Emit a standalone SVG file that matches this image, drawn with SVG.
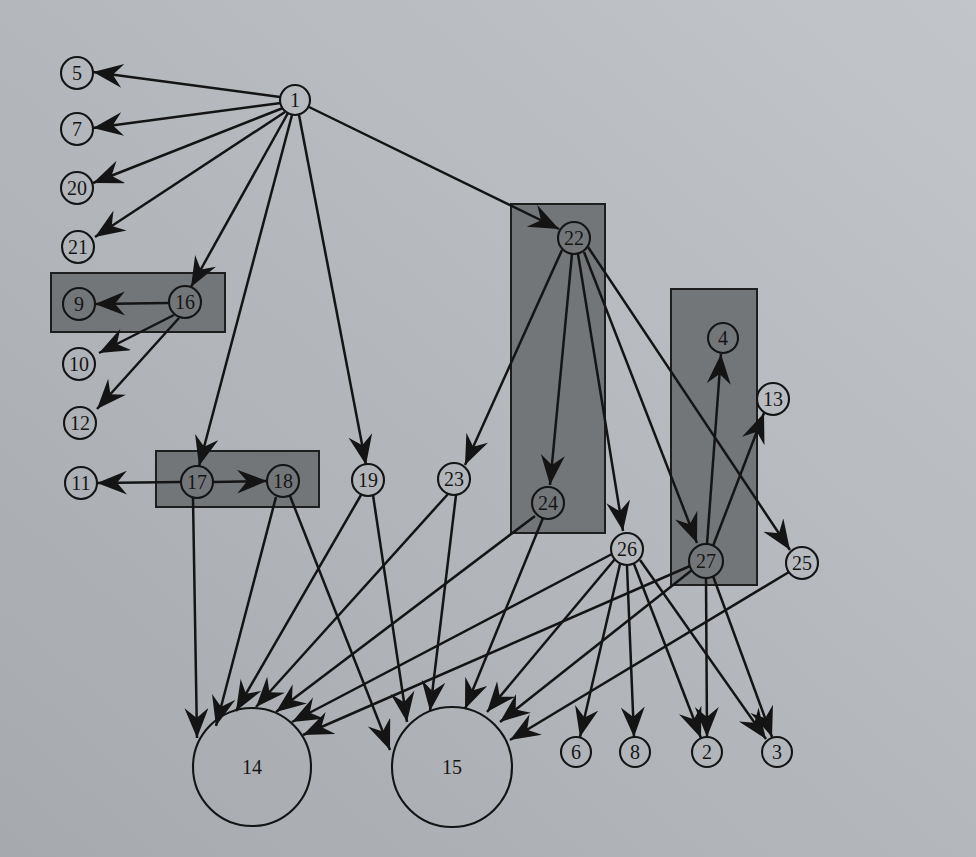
<svg xmlns="http://www.w3.org/2000/svg" width="976" height="857" viewBox="0 0 976 857">
<defs>
<linearGradient id="bg" x1="0" y1="1" x2="1" y2="0">
<stop offset="0" stop-color="#a6aaae"/>
<stop offset="1" stop-color="#c2c5c9"/>
</linearGradient>
<marker id="ah" markerUnits="userSpaceOnUse" markerWidth="32" markerHeight="26" refX="30" refY="12" orient="auto" viewBox="0 0 32 26">
<path d="M0,0 L30,12 L0,24 L10,12 Z" fill="#141414"/>
</marker>
<style>
.n circle{fill:none;stroke:#141414;stroke-width:2.1}
.n text{font-family:"Liberation Serif","Times New Roman",serif;font-size:20px;fill:#151515;text-anchor:middle;dominant-baseline:central}
.e line{stroke:#141414;stroke-width:2.5;marker-end:url(#ah)}
.box{fill:#737679;stroke:#1e1e1e;stroke-width:2}
</style>
</defs>
<rect width="976" height="857" fill="url(#bg)"/>
<g id="boxes">
<rect class="box" x="51" y="273" width="174" height="59"/>
<rect class="box" x="156" y="451" width="163" height="56"/>
<rect class="box" x="511" y="204" width="94" height="329"/>
<rect class="box" x="671" y="289" width="86" height="296"/>
</g>
<g id="connectors" class="e">
<line x1="280" y1="97" x2="93" y2="72"/>
<line x1="281" y1="103" x2="93" y2="128"/>
<line x1="283" y1="108" x2="93" y2="183"/>
<line x1="285" y1="112" x2="95" y2="237"/>
<line x1="288" y1="113" x2="191" y2="287"/>
<line x1="292" y1="115" x2="199" y2="466"/>
<line x1="299" y1="115" x2="366" y2="465"/>
<line x1="309" y1="107" x2="559" y2="229"/>
<line x1="168" y1="303" x2="95" y2="304"/>
<line x1="174" y1="315" x2="99" y2="353"/>
<line x1="179" y1="318" x2="97" y2="409"/>
<line x1="181" y1="482" x2="97" y2="483"/>
<line x1="213" y1="482" x2="267" y2="481"/>
<line x1="193" y1="498" x2="197" y2="738"/>
<line x1="276" y1="497" x2="216" y2="726"/>
<line x1="290" y1="496" x2="390" y2="750"/>
<line x1="361" y1="495" x2="236" y2="711"/>
<line x1="373" y1="495" x2="407" y2="722"/>
<line x1="448" y1="494" x2="256" y2="707"/>
<line x1="456" y1="495" x2="430" y2="711"/>
<line x1="562" y1="250" x2="465" y2="465"/>
<line x1="572" y1="254" x2="550" y2="485"/>
<line x1="578" y1="254" x2="623" y2="531"/>
<line x1="584" y1="252" x2="697" y2="543"/>
<line x1="588" y1="247" x2="790" y2="550"/>
<line x1="535" y1="516" x2="276" y2="712"/>
<line x1="543" y1="518" x2="465" y2="709"/>
<line x1="612" y1="554" x2="292" y2="722"/>
<line x1="615" y1="559" x2="487" y2="712"/>
<line x1="620" y1="564" x2="580" y2="737"/>
<line x1="627" y1="566" x2="634" y2="737"/>
<line x1="634" y1="564" x2="701" y2="738"/>
<line x1="640" y1="560" x2="766" y2="739"/>
<line x1="690" y1="566" x2="303" y2="735"/>
<line x1="692" y1="570" x2="500" y2="722"/>
<line x1="707" y1="544" x2="721" y2="354"/>
<line x1="713" y1="546" x2="764" y2="413"/>
<line x1="706" y1="577" x2="707" y2="737"/>
<line x1="713" y1="576" x2="772" y2="737"/>
<line x1="789" y1="572" x2="510" y2="740"/>
</g>
<g id="n1" class="n"><circle cx="295" cy="100" r="15"/><text x="295" y="100">1</text></g>
<g id="n5" class="n"><circle cx="77" cy="73" r="16"/><text x="77" y="73">5</text></g>
<g id="n7" class="n"><circle cx="77" cy="129" r="16"/><text x="77" y="129">7</text></g>
<g id="n20" class="n"><circle cx="77" cy="188" r="16"/><text x="77" y="188">20</text></g>
<g id="n21" class="n"><circle cx="78" cy="247" r="16"/><text x="78" y="247">21</text></g>
<g id="n9" class="n"><circle cx="79" cy="304" r="16"/><text x="79" y="304">9</text></g>
<g id="n16" class="n"><circle cx="185" cy="302" r="16"/><text x="185" y="302">16</text></g>
<g id="n10" class="n"><circle cx="79" cy="364" r="16"/><text x="79" y="364">10</text></g>
<g id="n12" class="n"><circle cx="80" cy="423" r="16"/><text x="80" y="423">12</text></g>
<g id="n11" class="n"><circle cx="81" cy="483" r="16"/><text x="81" y="483">11</text></g>
<g id="n17" class="n"><circle cx="197" cy="482" r="16"/><text x="197" y="482">17</text></g>
<g id="n18" class="n"><circle cx="283" cy="481" r="16"/><text x="283" y="481">18</text></g>
<g id="n19" class="n"><circle cx="368" cy="480" r="16"/><text x="368" y="480">19</text></g>
<g id="n23" class="n"><circle cx="454" cy="479" r="16"/><text x="454" y="479">23</text></g>
<g id="n22" class="n"><circle cx="574" cy="238" r="16"/><text x="574" y="238">22</text></g>
<g id="n24" class="n"><circle cx="548" cy="503" r="16"/><text x="548" y="503">24</text></g>
<g id="n26" class="n"><circle cx="627" cy="549" r="16"/><text x="627" y="549">26</text></g>
<g id="n27" class="n"><circle cx="706" cy="561" r="17"/><text x="706" y="561">27</text></g>
<g id="n4" class="n"><circle cx="723" cy="338" r="15"/><text x="723" y="338">4</text></g>
<g id="n13" class="n"><circle cx="773" cy="399" r="16"/><text x="773" y="399">13</text></g>
<g id="n25" class="n"><circle cx="802" cy="563" r="16"/><text x="802" y="563">25</text></g>
<g id="n14" class="n"><circle cx="252" cy="767" r="59"/><text x="252" y="767">14</text></g>
<g id="n15" class="n"><circle cx="452" cy="767" r="60"/><text x="452" y="767">15</text></g>
<g id="n6" class="n"><circle cx="576" cy="752" r="15"/><text x="576" y="752">6</text></g>
<g id="n8" class="n"><circle cx="635" cy="752" r="15"/><text x="635" y="752">8</text></g>
<g id="n2" class="n"><circle cx="707" cy="752" r="15"/><text x="707" y="752">2</text></g>
<g id="n3" class="n"><circle cx="777" cy="752" r="15"/><text x="777" y="752">3</text></g>
</svg>
